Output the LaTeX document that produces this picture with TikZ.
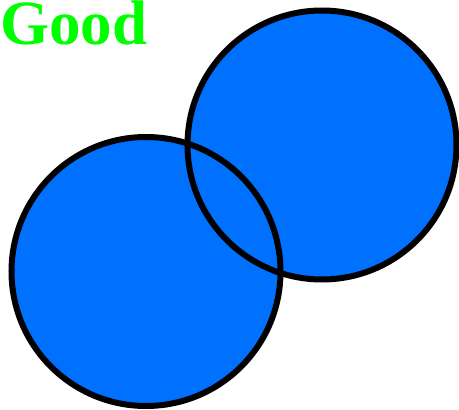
\documentclass[tikz,border=0pt]{standalone}
\usepackage{fontspec}
\setmainfont{Liberation Serif}
\usepackage{tikz}
\definecolor{discblue}{RGB}{0,112,255}
\definecolor{goodgreen}{RGB}{0,255,0}

\begin{document}
\begin{tikzpicture}[
  x=1pt, y=-1pt,
  disc/.style={fill=discblue},
  rim/.style={draw=black, line width=6pt},
  label/.style={font=\fontsize{63}{63}\selectfont\bfseries, text=goodgreen, inner sep=0pt, anchor=base west},
]
  \useasboundingbox (0,0) rectangle (459,410);
  % ---------- the two discs ----------
  \coordinate (lower) at (146,271.5);
  \coordinate (upper) at (322,145);
  \fill[disc] (lower) circle[radius=134.5];
  \fill[disc] (upper) circle[radius=134.5];
  \draw[rim] (lower) circle[radius=134.5];
  \draw[rim] (upper) circle[radius=134.5];
  % ---------- caption ----------
  \node[label] (good) at (0,44) {Good};
\end{tikzpicture}
\end{document}
